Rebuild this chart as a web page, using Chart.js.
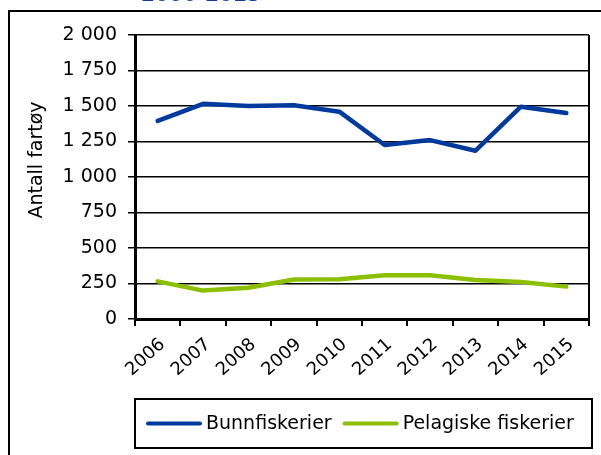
<!DOCTYPE html>
<html>
<head>
<meta charset="utf-8">
<script src="https://cdn.jsdelivr.net/npm/chart.js@4"></script>
<style>
  body { margin: 0; background: #fff; }
  #wrap { width: 601px; height: 455px; }
</style>
</head>
<body>
<div id="wrap"><canvas id="myChart" width="601" height="455"></canvas></div>
<script>
const FONT = 'DejaVu Sans';
const TITLE = '2006-2015';
const Y_TITLE = 'Antall fartøy';

const years = ['2006', '2007', '2008', '2009', '2010', '2011', '2012', '2013', '2014', '2015'];
const bunnfiskerier = [1395, 1515, 1500, 1505, 1460, 1225, 1260, 1185, 1495, 1450];
const pelagiske = [265, 200, 220, 278, 280, 308, 308, 275, 260, 228];
const seriesNames = ['Bunnfiskerier', 'Pelagiske fiskerier'];
const seriesColors = ['#003a9e', '#8cbf00'];

function spaced(v) {
  return String(v).replace(/\B(?=(\d{3})+(?!\d))/g, ' ');
}

const data = {
  labels: years,
  datasets: [{
    label: seriesNames[0],
    data: bunnfiskerier,
    borderColor: seriesColors[0],
    backgroundColor: seriesColors[0],
    borderWidth: 4.5,
    borderCapStyle: 'round',
    borderJoinStyle: 'round',
    pointRadius: 0,
    tension: 0
  }, {
    label: seriesNames[1],
    data: pelagiske,
    borderColor: seriesColors[1],
    backgroundColor: seriesColors[1],
    borderWidth: 4.5,
    borderCapStyle: 'round',
    borderJoinStyle: 'round',
    pointRadius: 0,
    tension: 0
  }]
};

// frame, cut-off title, y title, right edge of plot and the boxed legend
const decor = {
  id: 'decor',
  afterDraw(chart) {
    const ctx = chart.ctx;
    const a = chart.chartArea;
    ctx.save();

    ctx.strokeStyle = '#000';
    ctx.lineWidth = 2;
    ctx.beginPath();
    ctx.moveTo(9, 455);
    ctx.lineTo(9, 11);
    ctx.lineTo(601, 11);
    ctx.stroke();

    ctx.beginPath();
    ctx.moveTo(a.right, a.top);
    ctx.lineTo(a.right, a.bottom);
    ctx.stroke();

    ctx.fillStyle = '#0a3ca0';
    ctx.font = 'bold 20px "' + FONT + '"';
    ctx.textAlign = 'left';
    ctx.textBaseline = 'alphabetic';
    ctx.fillText(TITLE, 141, 1);

    ctx.fillStyle = '#000';
    ctx.font = '19px "' + FONT + '"';
    ctx.save();
    ctx.translate(37, 160);
    ctx.rotate(-Math.PI / 2);
    ctx.textAlign = 'center';
    ctx.textBaseline = 'middle';
    ctx.fillText(Y_TITLE, 0, 0);
    ctx.restore();

    // legend
    const top = a.bottom + 80, h = 49;
    const left = a.left, right = a.right + 3;
    ctx.lineWidth = 2;
    ctx.strokeRect(left, top, right - left, h);
    const cy = top + h / 2;
    let x = left + 13;
    chart.data.datasets.forEach(function (ds) {
      ctx.strokeStyle = ds.borderColor;
      ctx.lineWidth = 4;
      ctx.lineCap = 'round';
      ctx.beginPath();
      ctx.moveTo(x, cy);
      ctx.lineTo(x + 52, cy);
      ctx.stroke();
      x += 58;
      ctx.fillStyle = '#000';
      ctx.textAlign = 'left';
      ctx.textBaseline = 'middle';
      ctx.fillText(ds.label, x, cy + 1);
      x += ctx.measureText(ds.label).width + 13;
    });
    ctx.restore();
  }
};

const config = {
  type: 'line',
  data: data,
  options: {
    responsive: false,
    animation: false,
    devicePixelRatio: 1,
    layout: {
      padding: { left: 10, top: 35, right: 12, bottom: 0 }
    },
    scales: {
      x: {
        offset: true,
        afterFit(scale) { scale.height = 136; },
        grid: {
          offset: true,
          drawOnChartArea: false,
          drawTicks: true,
          tickLength: 7,
          color: '#000',
          lineWidth: 2
        },
        border: { display: true, color: '#000', width: 3 },
        ticks: {
          color: '#000',
          font: { family: FONT, size: 18 },
          minRotation: 42,
          maxRotation: 42,
          padding: 8,
          labelOffset: 5,
          autoSkip: false
        }
      },
      y: {
        min: 0,
        max: 2000,
        afterFit(scale) { scale.width = 125; },
        grid: {
          color: '#000',
          lineWidth: 1.5,
          tickLength: 7
        },
        border: { display: true, color: '#000', width: 3 },
        ticks: {
          stepSize: 250,
          color: '#000',
          padding: 11,
          font: { family: FONT, size: 19 },
          callback: function (v) { return spaced(v); }
        }
      }
    },
    plugins: {
      legend: { display: false },
      tooltip: { enabled: false }
    }
  },
  plugins: [decor]
};

const myChart = new Chart(document.getElementById('myChart'), config);
</script>
</body>
</html>
